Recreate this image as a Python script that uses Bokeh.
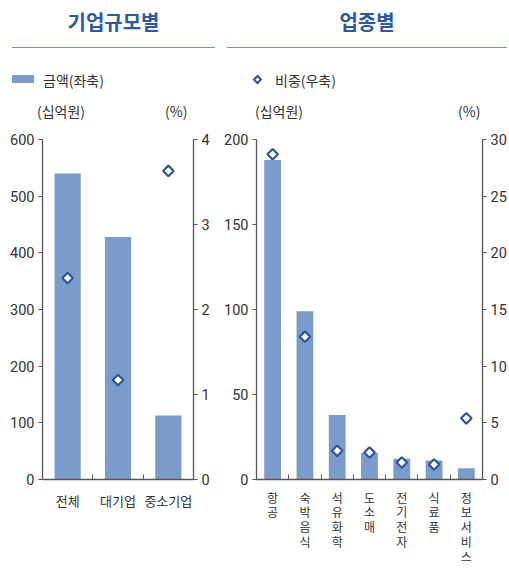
import math
from bokeh.plotting import figure
from bokeh.models import Range1d, LinearAxis, FixedTicker, Div
from bokeh.layouts import column, row
from bokeh.embed import file_html
from bokeh.resources import INLINE

# ---- data ----
size_cats = ["전체", "대기업", "중소기업"]
size_amount = [540, 428, 113]
size_share = [2.37, 1.17, 3.63]

ind_cats = ["항공", "숙박음식", "석유화학", "도소매", "전기전자", "식료품", "정보서비스"]
ind_amount = [188, 99, 38, 15.7, 12.2, 11.2, 6.6]
ind_share = [28.7, 12.6, 2.53, 2.38, 1.5, 1.32, 5.4]

size_left_ticks = [0, 100, 200, 300, 400, 500, 600]
size_right_ticks = [0, 1, 2, 3, 4]
ind_left_ticks = [0, 50, 100, 150, 200]
ind_right_ticks = [0, 5, 10, 15, 20, 25, 30]

BAR = "#7b9bca"
DIA = "#2e5597"
AXIS = "#555555"
TXT = "#333333"
KFONT = "Noto Sans CJK KR"
NFONT = "Roboto"


def panel(cats, amount, share, lticks, rticks, fw, bl, br, vertical):
    n = len(cats)
    xs = list(range(n))
    p = figure(frame_width=fw, frame_height=340,
               x_range=Range1d(-0.5, n - 0.5),
               y_range=Range1d(lticks[0], lticks[-1]),
               output_backend="svg", toolbar_location=None,
               min_border_left=bl, min_border_right=br,
               min_border_top=14, min_border_bottom=95)
    p.extra_y_ranges = {"pct": Range1d(rticks[0], rticks[-1])}
    p.vbar(x=xs, top=amount, width=0.52, fill_color=BAR, line_color=None)
    p.scatter(x=xs, y=share, y_range_name="pct", marker="square",
              angle=math.pi / 4, size=7.5, fill_color="white",
              line_color=DIA, line_width=2.2)
    p.xgrid.visible = False
    p.ygrid.visible = False
    p.outline_line_color = None
    p.background_fill_color = "white"
    p.border_fill_color = "white"

    ax = p.yaxis[0]
    ax.ticker = FixedTicker(ticks=lticks)
    ra = LinearAxis(y_range_name="pct", ticker=FixedTicker(ticks=rticks))
    p.add_layout(ra, "right")
    for a in (ax, ra):
        a.axis_line_color = AXIS
        a.axis_line_width = 1.3
        a.major_tick_line_color = AXIS
        a.major_tick_out = 4
        a.major_tick_in = 0
        a.minor_tick_line_color = None
        a.major_label_text_font = NFONT
        a.major_label_text_font_size = "14.5px"
        a.major_label_text_color = TXT
        a.major_label_standoff = 4

    xa = p.xaxis[0]
    xa.ticker = FixedTicker(ticks=xs, minor_ticks=[i + 0.5 for i in range(n - 1)])
    xa.axis_line_color = AXIS
    xa.axis_line_width = 1.3
    xa.major_tick_line_color = None
    xa.minor_tick_line_color = AXIS
    xa.minor_tick_in = 5
    xa.minor_tick_out = 0
    if vertical:
        xa.major_label_overrides = {i: "\n".join(c) for i, c in enumerate(cats)}
        xa.major_label_text_line_height = 0.88
        xa.major_label_text_font_size = "12px"
        xa.major_label_standoff = 3
    else:
        xa.major_label_overrides = {i: c for i, c in enumerate(cats)}
        xa.major_label_text_font_size = "13px"
        xa.major_label_standoff = 5
    xa.major_label_text_font = KFONT
    xa.major_label_text_color = TXT
    return p


p1 = panel(size_cats, size_amount, size_share, size_left_ticks, size_right_ticks,
           151, 42, 27, False)
p2 = panel(ind_cats, ind_amount, ind_share, ind_left_ticks, ind_right_ticks,
           226, 36, 27, True)

TB = "#2c5aa0"
RULE = "#6a93d0"
header_html = f"""
<div style="position:relative;width:509px;height:125px;font-family:'{KFONT}';color:{TXT};">
  <div style="position:absolute;left:12px;top:8px;width:203px;text-align:center;color:{TB};font-weight:bold;font-size:20px;line-height:28px;">기업규모별</div>
  <div style="position:absolute;left:227px;top:8px;width:280px;text-align:center;color:{TB};font-weight:bold;font-size:20px;line-height:28px;">업종별</div>
  <div style="position:absolute;left:12px;top:47px;width:203px;height:0;border-top:1.5px solid {RULE};"></div>
  <div style="position:absolute;left:227px;top:47px;width:280px;height:0;border-top:1.5px solid {RULE};"></div>
  <div style="position:absolute;left:12px;top:75px;width:22px;height:8px;background:{BAR};"></div>
  <div style="position:absolute;left:43px;top:70px;font-size:14px;line-height:20px;">금액(좌축)</div>
  <div style="position:absolute;left:254px;top:75.5px;box-sizing:border-box;width:7px;height:7px;border:2px solid {DIA};transform:rotate(45deg);background:white;"></div>
  <div style="position:absolute;left:275px;top:70px;font-size:14px;line-height:20px;">비중(우축)</div>
  <div style="position:absolute;left:37px;top:101px;font-size:14px;line-height:20px;">(십억원)</div>
  <div style="position:absolute;left:165px;top:101px;font-size:14px;line-height:20px;">(%)</div>
  <div style="position:absolute;left:255px;top:101px;font-size:14px;line-height:20px;">(십억원)</div>
  <div style="position:absolute;left:458px;top:101px;font-size:14px;line-height:20px;">(%)</div>
</div>
"""
header = Div(text=header_html, width=509, height=125, margin=0)

layout = column(header, row(p1, p2, spacing=0), spacing=0)
open("out.html", "w").write(file_html(layout, INLINE))
